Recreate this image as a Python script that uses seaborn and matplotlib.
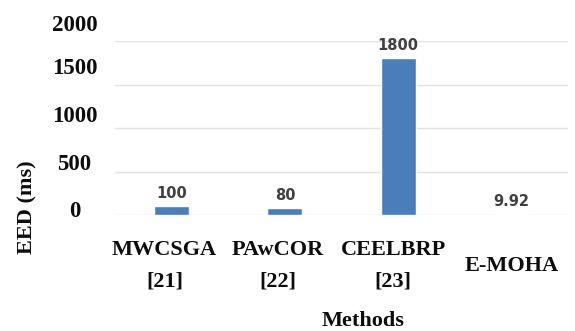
import matplotlib
matplotlib.use("Agg")
import matplotlib.pyplot as plt
import matplotlib.transforms as mtransforms
import seaborn as sns
import pandas as pd

methods = ["MWCSGA\n[21]", "PAwCOR\n[22]", "CEELBRP\n[23]", "E-MOHA"]
eed = [100, 80, 1800, 9.92]
value_labels = ["100", "80", "1800", "9.92"]
yticks = [0, 500, 1000, 1500, 2000]

df = pd.DataFrame({"Method": methods, "EED": eed})

sns.set_style("white")
plt.rcParams["font.family"] = ["Liberation Serif", "DejaVu Serif"]
SERIF = ["Liberation Serif", "DejaVu Serif"]

fig = plt.figure(figsize=(5.75, 3.31), dpi=100)
ax = fig.add_axes([115/575, 1-215/331, (568-115)/575, (215-41)/331])

sns.barplot(data=df, x="Method", y="EED", color="#4a7ebb", width=0.31,
            saturation=1, ax=ax)

ax.set_ylim(0, 2000)
ax.set_xlim(-0.5, 3.5)
ax.set_yticks(yticks)
ax.set_yticklabels([str(v) for v in yticks])
ax.yaxis.grid(True, color="#e2e2e2", linewidth=1.0)
ax.set_axisbelow(True)
for s in ax.spines.values():
    s.set_visible(False)

ax.tick_params(axis="y", length=0, pad=29.2, labelsize=16.5, labelcolor="#0d0d0d")
ax.tick_params(axis="x", length=0, pad=36.5, labelsize=16, labelcolor="#0d0d0d")
offsets = [6, 10, 14, 19, 18]
for lab, off in zip(ax.get_yticklabels(), offsets):
    lab.set_fontweight("bold")
    lab.set_family(SERIF)
    lab.set_ha("center")
    lab.set_va("center_baseline")
    lab.set_transform(lab.get_transform() + mtransforms.ScaledTranslation(0, off/100, fig.dpi_scale_trans))
xoffs = [-7, -7, -5, 0]
for lab, off in zip(ax.get_xticklabels(), xoffs):
    lab.set_fontweight("bold")
    lab.set_family(SERIF)
    lab.set_va("center")
    lab.set_linespacing(1.75)
    lab.set_transform(lab.get_transform() + mtransforms.ScaledTranslation(off/100, 0, fig.dpi_scale_trans))

for i, (v, t) in enumerate(zip(eed, value_labels)):
    ax.annotate(t, xy=(i, v), xytext=(0, 5.8), textcoords="offset points",
                ha="center", va="baseline", fontsize=10.5, fontweight="bold",
                color="#404040", family="DejaVu Sans")

ax.set_xlabel("Methods", fontsize=16, fontweight="bold", color="#0d0d0d", family=SERIF)
ax.xaxis.label.set_va("center")
ax.xaxis.set_label_coords((363-115)/453, (215-321)/174)
ax.set_ylabel("EED (ms)", fontsize=16, fontweight="bold", color="#0d0d0d", family=SERIF)
ax.yaxis.label.set_va("center")
ax.yaxis.set_label_coords((27-115)/453, (215-207)/174)

fig.savefig("out.png", dpi=100)
